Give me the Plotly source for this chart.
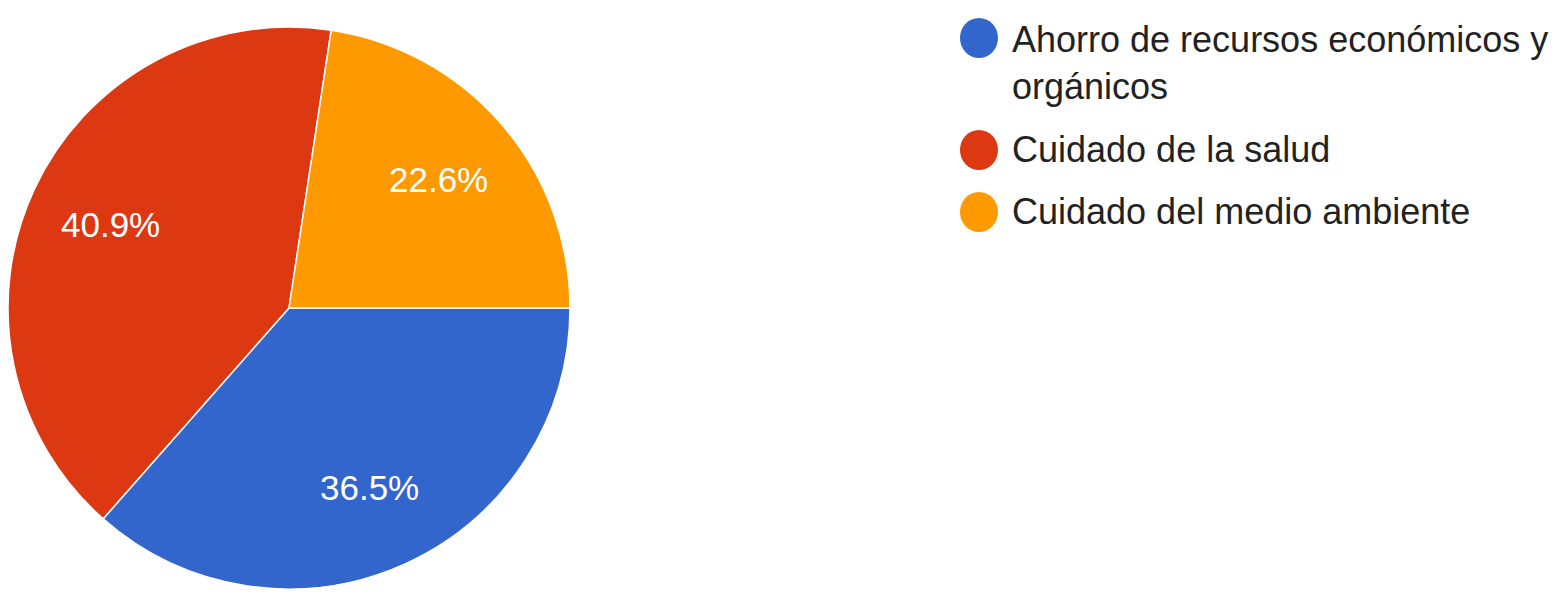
import math
import plotly.graph_objects as go

# Survey answers and their shares (%)
labels = ["Ahorro de recursos económicos y orgánicos", "Cuidado de la salud", "Cuidado del medio ambiente"]
legend_text = ["Ahorro de recursos económicos y<br>orgánicos", "Cuidado de la salud", "Cuidado del medio ambiente"]
shares = [36.5, 40.9, 22.6]
colors = ["#3366cc", "#dc3912", "#ff9900"]

W, H = 1558, 602
FONT = "Liberation Sans, Arial, sans-serif"

# Pie placement (pixels)
CX, CY, R = 289, 308, 281
START = 90  # first slice begins at 3 o'clock, running clockwise

fig = go.Figure()
fig.add_trace(go.Pie(
    labels=labels,
    values=shares,
    sort=False,
    direction="clockwise",
    rotation=START,
    marker=dict(colors=colors, line=dict(color="white", width=1.5)),
    textinfo="none",
    showlegend=False,
    hoverinfo="label+percent",
    domain=dict(x=[(CX - R) / W, (CX + R) / W], y=[(H - CY - R) / H, (H - CY + R) / H]),
))

# Percentage labels, placed at 70% of the radius on each slice's mid-angle
total = sum(shares)
acc = 0.0
for v in shares:
    mid = START + (acc + v / 2) / total * 360  # compass degrees, clockwise from north
    acc += v
    px = CX + 0.70 * R * math.sin(math.radians(mid))
    py = CY - 0.70 * R * math.cos(math.radians(mid))
    fig.add_annotation(
        x=px / W, y=1 - py / H, xref="paper", yref="paper",
        xanchor="center", yanchor="middle", showarrow=False,
        text=f"{v / total * 100:.1f}%",
        font=dict(family=FONT, size=35, color="white"),
    )

# Legend: circle swatch + label for each answer
legend_rows = [63, 150, 212]   # vertical centre of each entry (px from top)
for txt, col, row in zip(legend_text, colors, legend_rows):
    swatch_y = row if "<br>" not in txt else row - 25
    fig.add_shape(
        type="circle", xref="paper", yref="paper",
        xsizemode="pixel", ysizemode="pixel",
        xanchor=979 / W, yanchor=1 - swatch_y / H,
        x0=-19, x1=19, y0=-20, y1=20,
        fillcolor=col, line=dict(width=0),
    )
    fig.add_annotation(
        x=1010 / W, y=1 - row / H, xref="paper", yref="paper",
        xanchor="left", yanchor="middle", align="left",
        text=txt, showarrow=False,
        font=dict(family=FONT, size=36, color="#222222"),
    )

fig.update_layout(
    width=W, height=H,
    margin=dict(l=0, r=0, t=0, b=0),
    paper_bgcolor="white", plot_bgcolor="white",
)

fig.write_html("out.html")
